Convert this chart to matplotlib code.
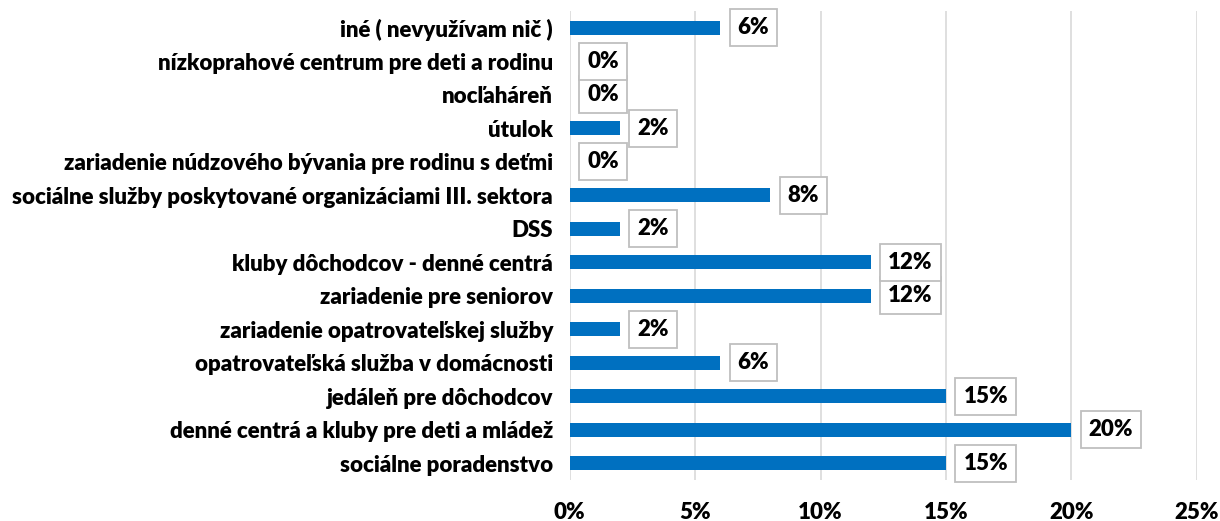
import matplotlib
matplotlib.use("Agg")
import matplotlib.pyplot as plt
from matplotlib.ticker import FuncFormatter

plt.rcParams['font.family'] = ['Lato', 'DejaVu Sans']

categories = [
    "sociálne poradenstvo",
    "denné centrá a kluby pre deti a mládež",
    "jedáleň pre dôchodcov",
    "opatrovateľská služba v domácnosti",
    "zariadenie opatrovateľskej služby",
    "zariadenie pre seniorov",
    "kluby dôchodcov - denné centrá",
    "DSS",
    "sociálne služby poskytované organizáciami III. sektora",
    "zariadenie núdzového bývania pre rodinu s deťmi",
    "útulok",
    "nocľaháreň",
    "nízkoprahové centrum pre deti a rodinu",
    "iné ( nevyužívam nič )",
]
values = [15, 20, 15, 6, 2, 12, 12, 2, 8, 0, 2, 0, 0, 6]
xticks = [0, 5, 10, 15, 20, 25]

fig = plt.figure(figsize=(12.2, 5.21), dpi=100)
ax = fig.add_axes([0.467, 0.0787, 0.514, 0.900])

y = list(range(len(categories)))
ax.barh(y, values, height=0.42, color='#0070C0', zorder=3)

for yi, v in zip(y, values):
    ax.annotate(f"{v}%", xy=(v, yi), xytext=(12.5, 0), textcoords='offset points',
                ha='left', va='center', fontsize=16, fontweight='heavy', color='black',
                bbox=dict(boxstyle='square,pad=0.36', fc='white', ec='#BFBFBF', lw=1.3),
                zorder=4)

ax.set_xlim(0, 25)
ax.set_ylim(-0.5, len(categories) - 0.5)
ax.set_xticks(xticks)
ax.xaxis.set_major_formatter(FuncFormatter(lambda v, p: f"{v:.0f}%"))
ax.set_yticks(y)
ax.set_yticklabels(categories)
ax.grid(axis='x', color='#D9D9D9', lw=1.2, zorder=0)
for s in ax.spines.values():
    s.set_visible(False)
ax.tick_params(axis='both', length=0, labelsize=16)
ax.tick_params(axis='y', pad=12, labelsize=16)
ax.tick_params(axis='x', pad=16)
for lab in ax.get_xticklabels() + ax.get_yticklabels():
    lab.set_fontweight('heavy')

fig.savefig("out.png", dpi=100)
